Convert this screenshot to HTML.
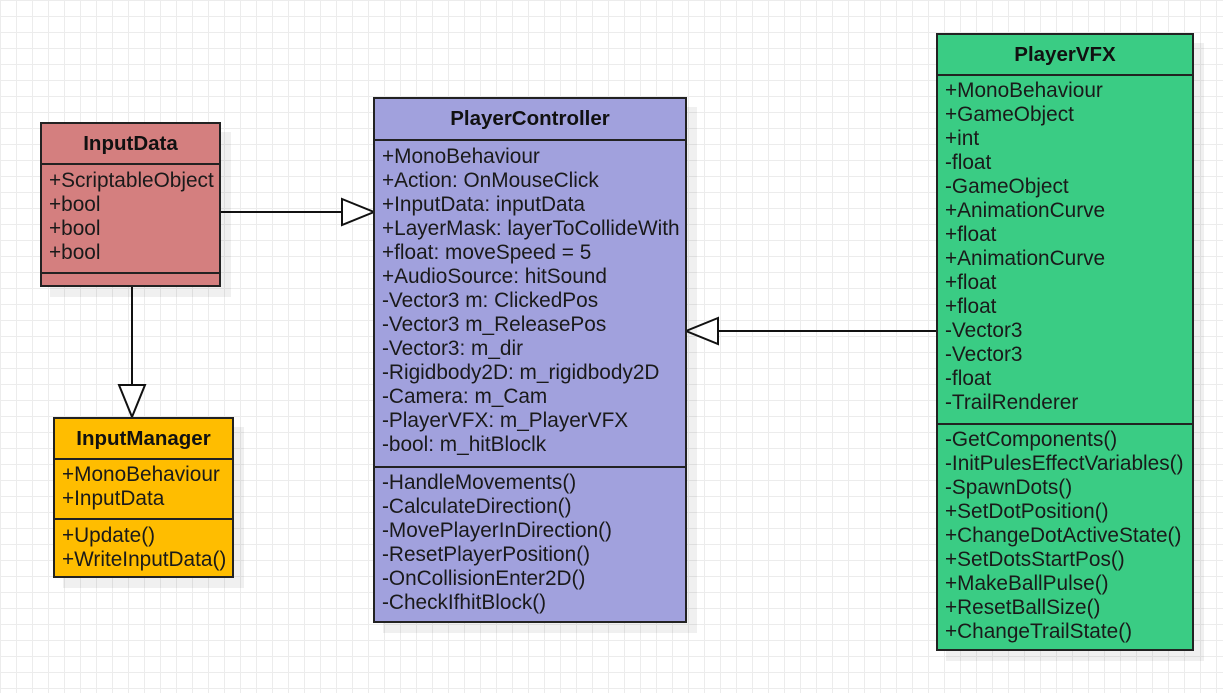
<!DOCTYPE html>
<html><head><style>
body{margin:0;width:1223px;height:693px;overflow:hidden;background:#fff;
background-image:linear-gradient(#ececec 1px,transparent 1px),linear-gradient(90deg,#ececec 1px,transparent 1px);background-size:16px 16px;
font-family:"Liberation Sans",sans-serif;position:relative}
.box{position:absolute;border:2px solid #222;box-sizing:border-box;box-shadow:10px 10px 0 rgba(0,0,0,0.06)}
.h{font-weight:bold;text-align:center;border-bottom:2px solid #222;box-sizing:border-box;font-size:20.5px;color:#111}
.s{border-bottom:2px solid #222;box-sizing:border-box;padding-left:7px;font-size:20.8px;line-height:24px;color:#1a1a1a;white-space:nowrap}
.s:last-child{border-bottom:none}
svg{position:absolute;left:0;top:0}
</style></head><body>
<svg width="1223" height="693">
<g stroke="#111" stroke-width="2" fill="#fff">
<line x1="220" y1="212" x2="342" y2="212"/>
<polygon points="342,199 374,212 342,225"/>
<line x1="937" y1="331" x2="718" y2="331"/>
<polygon points="718,318 686,331 718,344"/>
<line x1="132" y1="286" x2="132" y2="385"/>
<polygon points="119,385 132,417 145,385"/>
</g>
</svg>

<div class="box" style="left:40px;top:122px;width:181px;height:165px;background:#d47f7f">
<div class="h" style="height:41px;line-height:39px">InputData</div>
<div class="s" style="height:109px;padding-top:4px">+ScriptableObject<br>+bool<br>+bool<br>+bool</div>
<div class="s"></div>
</div>

<div class="box" style="left:53px;top:417px;width:181px;height:161px;background:#ffbd00">
<div class="h" style="height:41px;line-height:39px">InputManager</div>
<div class="s" style="height:60px;padding-top:3px">+MonoBehaviour<br>+InputData</div>
<div class="s" style="padding-top:4px">+Update()<br>+WriteInputData()</div>
</div>

<div class="box" style="left:373px;top:97px;width:314px;height:526px;background:#a1a1dd">
<div class="h" style="height:42px;line-height:40px">PlayerController</div>
<div class="s" style="height:327px;padding-top:4px">+MonoBehaviour<br>+Action: OnMouseClick<br>+InputData: inputData<br>+LayerMask: layerToCollideWith<br>+float: moveSpeed = 5<br>+AudioSource: hitSound<br>-Vector3 m: ClickedPos<br>-Vector3 m_ReleasePos<br>-Vector3: m_dir<br>-Rigidbody2D: m_rigidbody2D<br>-Camera: m_Cam<br>-PlayerVFX: m_PlayerVFX<br>-bool: m_hitBloclk</div>
<div class="s" style="padding-top:3px">-HandleMovements()<br>-CalculateDirection()<br>-MovePlayerInDirection()<br>-ResetPlayerPosition()<br>-OnCollisionEnter2D()<br>-CheckIfhitBlock()</div>
</div>

<div class="box" style="left:936px;top:33px;width:258px;height:618px;background:#3acc84">
<div class="h" style="height:41px;line-height:39px">PlayerVFX</div>
<div class="s" style="height:349px;padding-top:3px">+MonoBehaviour<br>+GameObject<br>+int<br>-float<br>-GameObject<br>+AnimationCurve<br>+float<br>+AnimationCurve<br>+float<br>+float<br>-Vector3<br>-Vector3<br>-float<br>-TrailRenderer</div>
<div class="s" style="padding-top:3px">-GetComponents()<br>-InitPulesEffectVariables()<br>-SpawnDots()<br>+SetDotPosition()<br>+ChangeDotActiveState()<br>+SetDotsStartPos()<br>+MakeBallPulse()<br>+ResetBallSize()<br>+ChangeTrailState()</div>
</div>
</body></html>
